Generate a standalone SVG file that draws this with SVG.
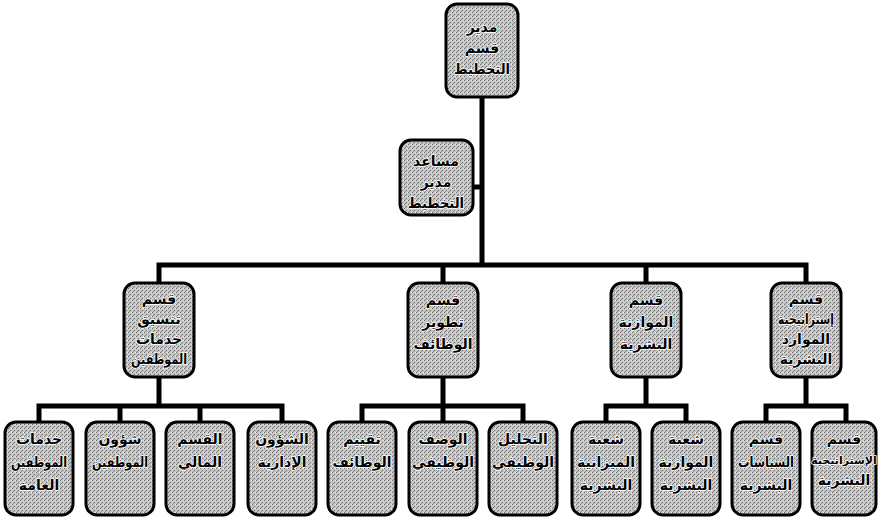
<svg xmlns="http://www.w3.org/2000/svg" width="878" height="520" viewBox="0 0 878 520">
<style>
.box{fill:url(#ht);stroke:#000;stroke-width:3}
.ln{fill:none;stroke:#000;stroke-width:5;stroke-linecap:square}
.t{font-family:"DejaVu Sans",sans-serif;font-weight:bold;font-size:14px;fill:#000;stroke:#fff;stroke-width:1.6;paint-order:stroke;stroke-linejoin:round;text-anchor:middle}
.s{font-size:11px}
</style>
<defs>
<pattern id="ht" width="4" height="4" patternUnits="userSpaceOnUse">
<rect width="4" height="4" fill="#c6c6c6"/>
<rect x="0" y="0" width="1" height="1" fill="#6e6e6e"/>
<rect x="2" y="2" width="1" height="1" fill="#6e6e6e"/>
<rect x="3" y="0" width="1" height="1" fill="#e8e8e8"/>
<rect x="1" y="3" width="1" height="1" fill="#8a8a8a"/>
</pattern>
</defs>
<rect width="878" height="520" fill="#fff"/>
<g id="connectors">
<path class="ln" d="M482 97V265M473 187H482M159 265H806M159 265V283M443 265V283M646 265V283M806 265V283"/>
<path class="ln" d="M159 377V406M39 406H282M39 406V422M120 406V422M200 406V422M282 406V422"/>
<path class="ln" d="M443 377V406M362 406H523M362 406V422M443 406V422M523 406V422"/>
<path class="ln" d="M646 377V406M606 406H686M606 406V422M686 406V422"/>
<path class="ln" d="M806 377V406M766 406H846M766 406V422M846 406V422"/>
</g>
<g id="n-director">
<rect class="box" x="446" y="4" width="72" height="93" rx="11"/>
<text class="t" x="482" y="32">مدير</text>
<text class="t" x="482" y="53">قسم</text>
<text class="t" x="482" y="74" textLength="56" lengthAdjust="spacingAndGlyphs">التخطيط</text>
</g>
<g id="n-assistant">
<rect class="box" x="400" y="140" width="73" height="75" rx="11"/>
<text class="t" x="436" y="166">مساعد</text>
<text class="t" x="436" y="187">مدير</text>
<text class="t" x="436" y="208" textLength="56" lengthAdjust="spacingAndGlyphs">التخطيط</text>
</g>
<g id="n-coord">
<rect class="box" x="124" y="283" width="70" height="94" rx="11"/>
<text class="t" x="159" y="304">قسم</text>
<text class="t" x="159" y="324">تنسيق</text>
<text class="t" x="159" y="344">خدمات</text>
<text class="t" x="159" y="364" textLength="56" lengthAdjust="spacingAndGlyphs">الموظفين</text>
</g>
<g id="n-jobdev">
<rect class="box" x="408" y="283" width="70" height="94" rx="11"/>
<text class="t" x="443" y="305">قسم</text>
<text class="t" x="443" y="327">تطوير</text>
<text class="t" x="443" y="349">الوظائف</text>
</g>
<g id="n-budget">
<rect class="box" x="611" y="283" width="70" height="94" rx="11"/>
<text class="t" x="646" y="305">قسم</text>
<text class="t" x="646" y="327">الموازنة</text>
<text class="t" x="646" y="349">البشرية</text>
</g>
<g id="n-strategy">
<rect class="box" x="771" y="283" width="70" height="94" rx="11"/>
<text class="t" x="806" y="304">قسم</text>
<text class="t" x="806" y="324" textLength="56" lengthAdjust="spacingAndGlyphs">إستراتيجية</text>
<text class="t" x="806" y="344">الموارد</text>
<text class="t" x="806" y="364">البشرية</text>
</g>
<g id="n-general">
<rect class="box" x="5" y="422" width="68" height="93" rx="11"/>
<text class="t" x="39" y="444">خدمات</text>
<text class="t" x="39" y="467" textLength="56" lengthAdjust="spacingAndGlyphs">الموظفين</text>
<text class="t" x="39" y="490">العامة</text>
</g>
<g id="n-affairs">
<rect class="box" x="86" y="422" width="68" height="93" rx="11"/>
<text class="t" x="120" y="444">شؤون</text>
<text class="t" x="120" y="467" textLength="56" lengthAdjust="spacingAndGlyphs">الموظفين</text>
</g>
<g id="n-finance">
<rect class="box" x="166" y="422" width="68" height="93" rx="11"/>
<text class="t" x="200" y="444">القسم</text>
<text class="t" x="200" y="467">المالي</text>
</g>
<g id="n-admin">
<rect class="box" x="248" y="422" width="68" height="93" rx="11"/>
<text class="t" x="282" y="444">الشؤون</text>
<text class="t" x="282" y="467">الإدارية</text>
</g>
<g id="n-eval">
<rect class="box" x="328" y="422" width="68" height="93" rx="11"/>
<text class="t" x="362" y="444">تقييم</text>
<text class="t" x="362" y="467">الوظائف</text>
</g>
<g id="n-desc">
<rect class="box" x="409" y="422" width="68" height="93" rx="11"/>
<text class="t" x="443" y="444">الوصف</text>
<text class="t" x="443" y="467">الوظيفي</text>
</g>
<g id="n-analysis">
<rect class="box" x="489" y="422" width="68" height="93" rx="11"/>
<text class="t" x="523" y="444">التحليل</text>
<text class="t" x="523" y="467">الوظيفي</text>
</g>
<g id="n-budget-div">
<rect class="box" x="572" y="422" width="68" height="93" rx="11"/>
<text class="t" x="606" y="444">شعبة</text>
<text class="t" x="606" y="467">الميزانية</text>
<text class="t" x="606" y="490">البشرية</text>
</g>
<g id="n-balance-div">
<rect class="box" x="652" y="422" width="68" height="93" rx="11"/>
<text class="t" x="686" y="444">شعبة</text>
<text class="t" x="686" y="467">الموازنة</text>
<text class="t" x="686" y="490">البشرية</text>
</g>
<g id="n-policies">
<rect class="box" x="732" y="422" width="68" height="93" rx="11"/>
<text class="t" x="766" y="444">قسم</text>
<text class="t" x="766" y="467" textLength="56" lengthAdjust="spacingAndGlyphs">السياسات</text>
<text class="t" x="766" y="490">البشرية</text>
</g>
<g id="n-hrstrategy">
<rect class="box" x="812" y="422" width="64" height="93" rx="11"/>
<text class="t" x="844" y="444">قسم</text>
<text class="t s" x="844" y="464">الإستراتيجية</text>
<text class="t" x="844" y="485">البشرية</text>
</g>
</svg>
